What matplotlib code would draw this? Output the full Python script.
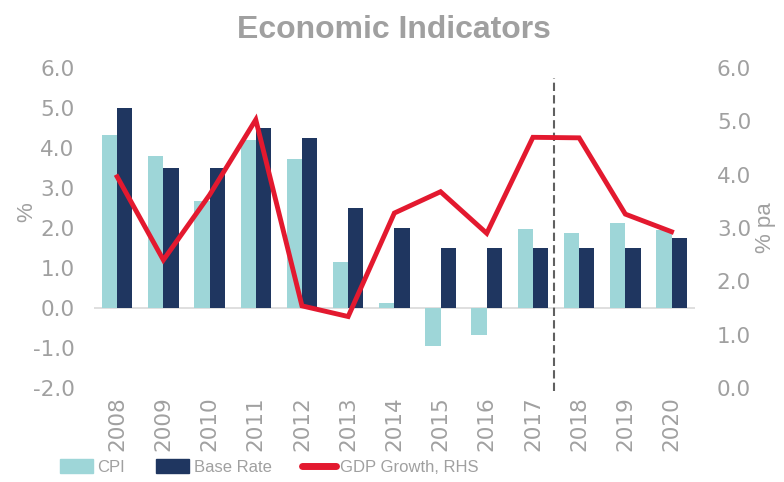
import matplotlib.pyplot as plt
import numpy as np
from matplotlib.patches import Patch
from matplotlib.lines import Line2D

plt.rcParams['font.family'] = ['Liberation Sans', 'DejaVu Sans']

years = ['2008', '2009', '2010', '2011', '2012', '2013', '2014',
         '2015', '2016', '2017', '2018', '2019', '2020']
cpi = [4.33, 3.8, 2.68, 4.2, 3.72, 1.15, 0.13, -0.95, -0.68, 1.98, 1.88, 2.12, 1.95]
base_rate = [5.0, 3.5, 3.5, 4.5, 4.25, 2.5, 2.0, 1.5, 1.5, 1.5, 1.5, 1.5, 1.75]
gdp = [3.96, 2.4, 3.62, 5.03, 1.54, 1.34, 3.28, 3.68, 2.9, 4.7, 4.69, 3.26, 2.93]

grey = '#A0A0A0'
c_cpi = '#9ED6D8'
c_base = '#1F3660'
c_gdp = '#E3192F'

fig = plt.figure(figsize=(7.84, 4.82), dpi=100)
ax = fig.add_axes([0.12, 0.195, 0.766, 0.664])
ax2 = ax.twinx()

x = np.arange(len(years))
w = 0.33
ax.bar(x - w / 2, cpi, w, color=c_cpi, zorder=2)
ax.bar(x + w / 2, base_rate, w, color=c_base, zorder=2)
ax.axhline(0, color='#D9D9D9', lw=1.2, zorder=1)
ax.axvline(9.45, ymin=-0.01, ymax=0.97, color='#606060', ls=(0, (4, 2)), lw=1.5, clip_on=False, zorder=3)

ax2.plot(x, gdp, color=c_gdp, lw=3.5, solid_joinstyle='miter', zorder=4)

ax.set_xlim(-0.5, len(years) - 0.5)
ax.set_ylim(-2, 6)
ax.set_yticks(np.arange(-2, 6.1, 1))
ax.set_yticklabels([f'{v:.1f}' for v in np.arange(-2, 6.1, 1)])
ax2.set_ylim(0, 6)
ax2.set_yticks(np.arange(0, 6.1, 1))
ax2.set_yticklabels([f'{v:.1f}' for v in np.arange(0, 6.1, 1)])

ax.set_xticks(x)
ax.set_xticklabels(years, rotation=90)

for a in (ax, ax2):
    for s in a.spines.values():
        s.set_visible(False)
    a.tick_params(length=0, labelcolor=grey, pad=6)
    for t in a.get_xticklabels() + a.get_yticklabels():
        t.set_fontfamily('DejaVu Sans')
        t.set_fontsize(15.5)
ax.tick_params(axis='y', pad=14)
ax2.tick_params(axis='y', pad=16)

ax.set_ylabel('%', fontsize=16, color=grey)
ax.yaxis.set_label_coords(-0.095, 0.55)
ax2.set_ylabel('% pa', fontsize=16, color=grey)
ax2.yaxis.set_label_coords(1.1, 0.5)

fig.text(0.503, 1 - 30 / 482, 'Economic Indicators', ha='center', va='center',
         fontsize=23, fontweight='bold', color=grey)

handles = [Patch(color=c_cpi), Patch(color=c_base),
           Line2D([], [], color=c_gdp, lw=5, solid_capstyle='round')]
fig.legend(handles, ['CPI', 'Base Rate', 'GDP Growth, RHS'], loc='center left',
           bbox_to_anchor=(60 / 784, 1 - 467 / 482), ncol=3, frameon=False, fontsize=12,
           labelcolor=grey, handlelength=2.0, handleheight=0.85, handletextpad=0.25,
           columnspacing=1.85, borderpad=0, borderaxespad=0)

fig.savefig('out.png', dpi=100)
